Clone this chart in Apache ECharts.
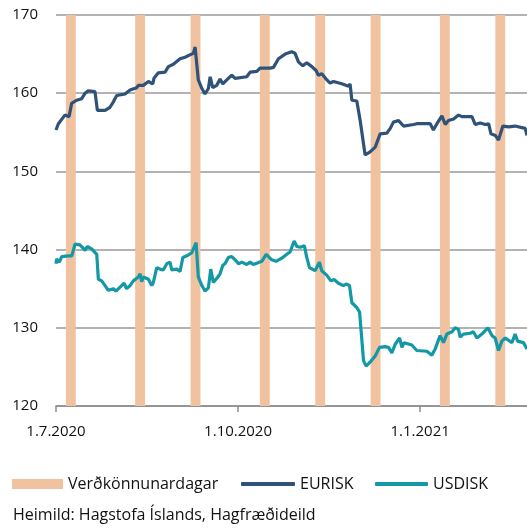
<!DOCTYPE html>
<html>
<head>
<meta charset="utf-8">
<script src="https://cdn.jsdelivr.net/npm/echarts@6/dist/echarts.min.js"></script>
<style>
  html, body { margin: 0; padding: 0; background: #fff; }
  #main { width: 527px; height: 529px; }
</style>
</head>
<body>
<div id="main"></div>
<script>
// dagar frá 1.7.2020
let xTickDays = [0, 92, 184];
let xTickLabels = ['1.7.2020', '1.10.2020', '1.1.2021'];

// verðkönnunardagar (upphaf, endir) í dögum frá 1.7.2020
let surveyStart = [5, 40, 68, 103, 131, 159, 194, 222];
let surveyEnd   = [10, 45, 73, 108, 136, 164, 199, 227];

let eurDays = [0, 1.2, 4.5, 6.6, 7.9, 10.4, 13, 14.7, 16.3, 19.7, 20.9, 24.8, 27.3, 29, 30.7, 34.9, 37.4, 40.8, 41.6, 44.1,
  46.7, 48.9, 49.5, 51.7, 55.1, 56.8, 59.3, 62.7, 65.2, 67.7, 69.4, 70.3, 71.9, 73.7, 75.3, 77, 77.9, 79.2, 81.2, 82.9,
  84.3, 86.3, 88.8, 90.5, 96.4, 98.1, 101.5, 103.1, 108.2, 109.9, 112.4, 115.8, 119.1, 120.8, 122.5, 124.7, 126.7, 129.3,
  131.4, 132.6, 134.3, 136.9, 138.5, 140.2, 144.4, 147.8, 148.6, 149.5, 152, 153.7, 156.2, 158.7, 161.3, 163.8, 167.2,
  168.9, 170.5, 173.1, 175.6, 180.7, 182.3, 189.1, 190.7, 192.5, 195, 196.7, 198.3, 200.9, 203.4, 205.1, 210.2, 211.8,
  214.4, 216.9, 218.6, 219.8, 222, 223.6, 225.8, 228.7, 232, 235.4, 237.1, 238];
let eurVals = [155.3, 156.1, 157.2, 157.0, 158.7, 159.1, 159.3, 160.0, 160.3, 160.2, 157.8, 157.8, 158.2, 158.9, 159.7, 159.9, 160.4, 160.7, 161.0, 161.0,
  161.5, 161.2, 161.9, 162.6, 162.7, 163.4, 163.7, 164.4, 164.6, 164.9, 165.1, 165.9, 161.7, 160.6, 159.9, 160.6, 162.1, 160.7, 161.0, 161.8,
  161.2, 161.7, 162.3, 161.9, 162.1, 162.7, 162.8, 163.2, 163.2, 163.3, 164.4, 165.0, 165.3, 165.1, 164.0, 163.5, 163.9, 163.4,
  162.9, 162.3, 162.5, 161.7, 161.3, 161.5, 161.2, 160.9, 161.2, 159.1, 159.0, 156.5, 152.1, 152.5, 153.1, 154.8, 154.9,
  155.5, 156.3, 156.5, 155.8, 156.0, 156.1, 156.1, 155.3, 156.1, 157.1, 156.0, 156.5, 156.7, 157.2, 157.0, 157.0, 156.0,
  156.2, 156.0, 156.1, 154.8, 154.6, 154.0, 155.8, 155.7, 155.8, 155.6, 155.5, 154.6];

let usdDays = [0, 0.3, 1.7, 2.9, 6.2, 8, 9.6, 12.1, 14.7, 15.8, 18, 20.6, 21.4, 23.1, 24.8, 26.4, 29, 30.3, 32.4, 34.4,
  35.7, 37.4, 39.1, 41.6, 42.5, 43.3, 44.1, 46.7, 48.4, 49.2, 50.9, 52.6, 54.2, 56, 57.6, 58.5, 61, 62.7, 64.1, 66.1,
  68.6, 70.8, 71.9, 73.7, 75.3, 77, 78.2, 79.5, 81.5, 82.9, 84.3, 85.4, 87.1, 88.8, 90.5, 92.2, 93.9, 96.4, 98.1, 99.7,
  104, 106.2, 109, 111.2, 114.1, 116.6, 118.3, 120.3, 121.7, 123.4, 125.5, 126.7, 128.1, 130.9, 133.1, 134.3, 136.9,
  138.9, 140.5, 142.7, 145.2, 147, 148.3, 149.5, 152, 153.4, 155.4, 156.7, 158.7, 161.3, 163.5, 166.3, 168, 169.7, 171.4,
  173.6, 174.8, 175.9, 179.8, 182.3, 187.4, 189.9, 191.6, 194.1, 195.8, 197.5, 200.1, 201.7, 203.4, 204.2, 205.9, 209.3,
  210.9, 212.7, 215.2, 218.2, 220.3, 221.9, 223.6, 225.3, 227, 230.4, 232, 233.2, 236.2, 238];
let usdVals = [138.2, 138.8, 138.4, 139.1, 139.2, 139.2, 140.7, 140.6, 139.9, 140.4, 140.1, 139.4, 136.2, 136.0, 135.4, 134.8, 135.0, 134.7, 135.2, 135.7,
  135.0, 135.4, 136.0, 136.5, 136.9, 135.9, 136.5, 136.2, 135.4, 135.8, 137.7, 137.5, 137.4, 138.2, 138.4, 137.4, 137.5, 137.2, 139.0, 139.2,
  139.6, 140.9, 136.5, 135.4, 134.7, 135.1, 137.5, 135.8, 136.4, 136.9, 138.0, 138.2, 139.0, 139.1, 138.7, 138.2, 138.4, 138.1, 138.4, 138.1,
  138.5, 139.4, 138.7, 138.5, 138.9, 139.4, 139.7, 141.1, 140.4, 140.3, 140.5, 139.0, 137.7, 137.3, 138.4, 137.3, 136.7,
  136.0, 136.2, 135.7, 135.4, 135.6, 135.4, 133.2, 132.6, 132.0, 125.8, 125.1, 125.6, 126.4, 127.5, 127.6, 127.5, 126.8, 127.9,
  128.7, 127.5, 128.1, 127.8, 127.1, 127.0, 126.5, 127.3, 129.0, 128.1, 129.2, 129.5, 130.0, 129.8, 128.8, 129.2, 129.3,
  129.5, 128.7, 129.2, 130.0, 129.0, 128.7, 127.1, 128.3, 128.7, 128.1, 129.2, 128.3, 128.1, 127.3];

let fontFam = "'Open Sans', 'Noto Sans', sans-serif";
let surveyColor = '#F1C2A0';
let eurColor = '#2F5279';
let usdColor = '#1399A6';

function pairs(xs, ys) {
    let out = [];
    for (let i = 0; i < xs.length; i++) out.push([xs[i], ys[i]]);
    return out;
}

let surveyData = surveyStart.map((s, i) => [s, surveyEnd[i]]);

let myChart = echarts.init(document.getElementById('main'));

let legendText = { fontSize: 16, color: '#111', fontFamily: fontFam };

let option = {
    animation: false,
    grid: { left: 56, right: 0, top: 15, bottom: 123, containLabel: false },
    legend: [
        { data: [{ name: 'Verðkönnunardagar', icon: 'rect' }], left: 12, top: 476, padding: 0,
          itemWidth: 51, itemHeight: 10, textStyle: legendText },
        { data: [{ name: 'EURISK', icon: 'roundRect' }], left: 241, top: 476, padding: 0,
          itemWidth: 54, itemHeight: 4, textStyle: legendText },
        { data: [{ name: 'USDISK', icon: 'roundRect' }], left: 375, top: 476, padding: 0,
          itemWidth: 53, itemHeight: 4, textStyle: legendText }
    ],
    graphic: [{
        type: 'text', left: 13, top: 507,
        style: { text: 'Heimild: Hagstofa Íslands, Hagfræðideild', fontSize: 16, fill: '#111', fontFamily: fontFam }
    }],
    xAxis: {
        type: 'value',
        min: 0,
        max: 238,
        interval: 92,
        axisLine: { show: true, lineStyle: { color: '#8c8c8c', width: 1.5 } },
        axisTick: { show: true, customValues: xTickDays, length: 6, lineStyle: { color: '#8c8c8c', width: 1.5 } },
        axisLabel: {
            customValues: xTickDays,
            margin: 18,
            fontSize: 15,
            color: '#111',
            fontFamily: fontFam,
            formatter: function (v) {
                let i = xTickDays.indexOf(v);
                return i >= 0 ? xTickLabels[i] : '';
            }
        },
        splitLine: { show: false }
    },
    yAxis: {
        type: 'value',
        min: 120,
        max: 170,
        interval: 10,
        axisLine: { show: false },
        axisTick: { show: false },
        axisLabel: { margin: 18, fontSize: 15, color: '#111', fontFamily: fontFam },
        splitLine: { show: true, lineStyle: { color: '#9a9a9a', width: 1.5 } }
    },
    series: [
        {
            name: 'Verðkönnunardagar',
            type: 'custom',
            z: 1,
            itemStyle: { color: surveyColor },
            encode: { x: [0, 1] },
            data: surveyData,
            renderItem: function (params, api) {
                let p0 = api.coord([api.value(0), 170]);
                let p1 = api.coord([api.value(1), 120]);
                return {
                    type: 'rect',
                    shape: { x: p0[0], y: p0[1], width: p1[0] - p0[0], height: p1[1] - p0[1] },
                    style: { fill: surveyColor }
                };
            }
        },
        {
            name: 'EURISK',
            type: 'line',
            z: 3,
            showSymbol: false,
            symbol: 'none',
            color: eurColor,
            lineStyle: { color: eurColor, width: 3.2 },
            data: pairs(eurDays, eurVals)
        },
        {
            name: 'USDISK',
            type: 'line',
            z: 3,
            showSymbol: false,
            symbol: 'none',
            color: usdColor,
            lineStyle: { color: usdColor, width: 3.2 },
            data: pairs(usdDays, usdVals)
        }
    ]
};

myChart.setOption(option);
</script>
</body>
</html>
